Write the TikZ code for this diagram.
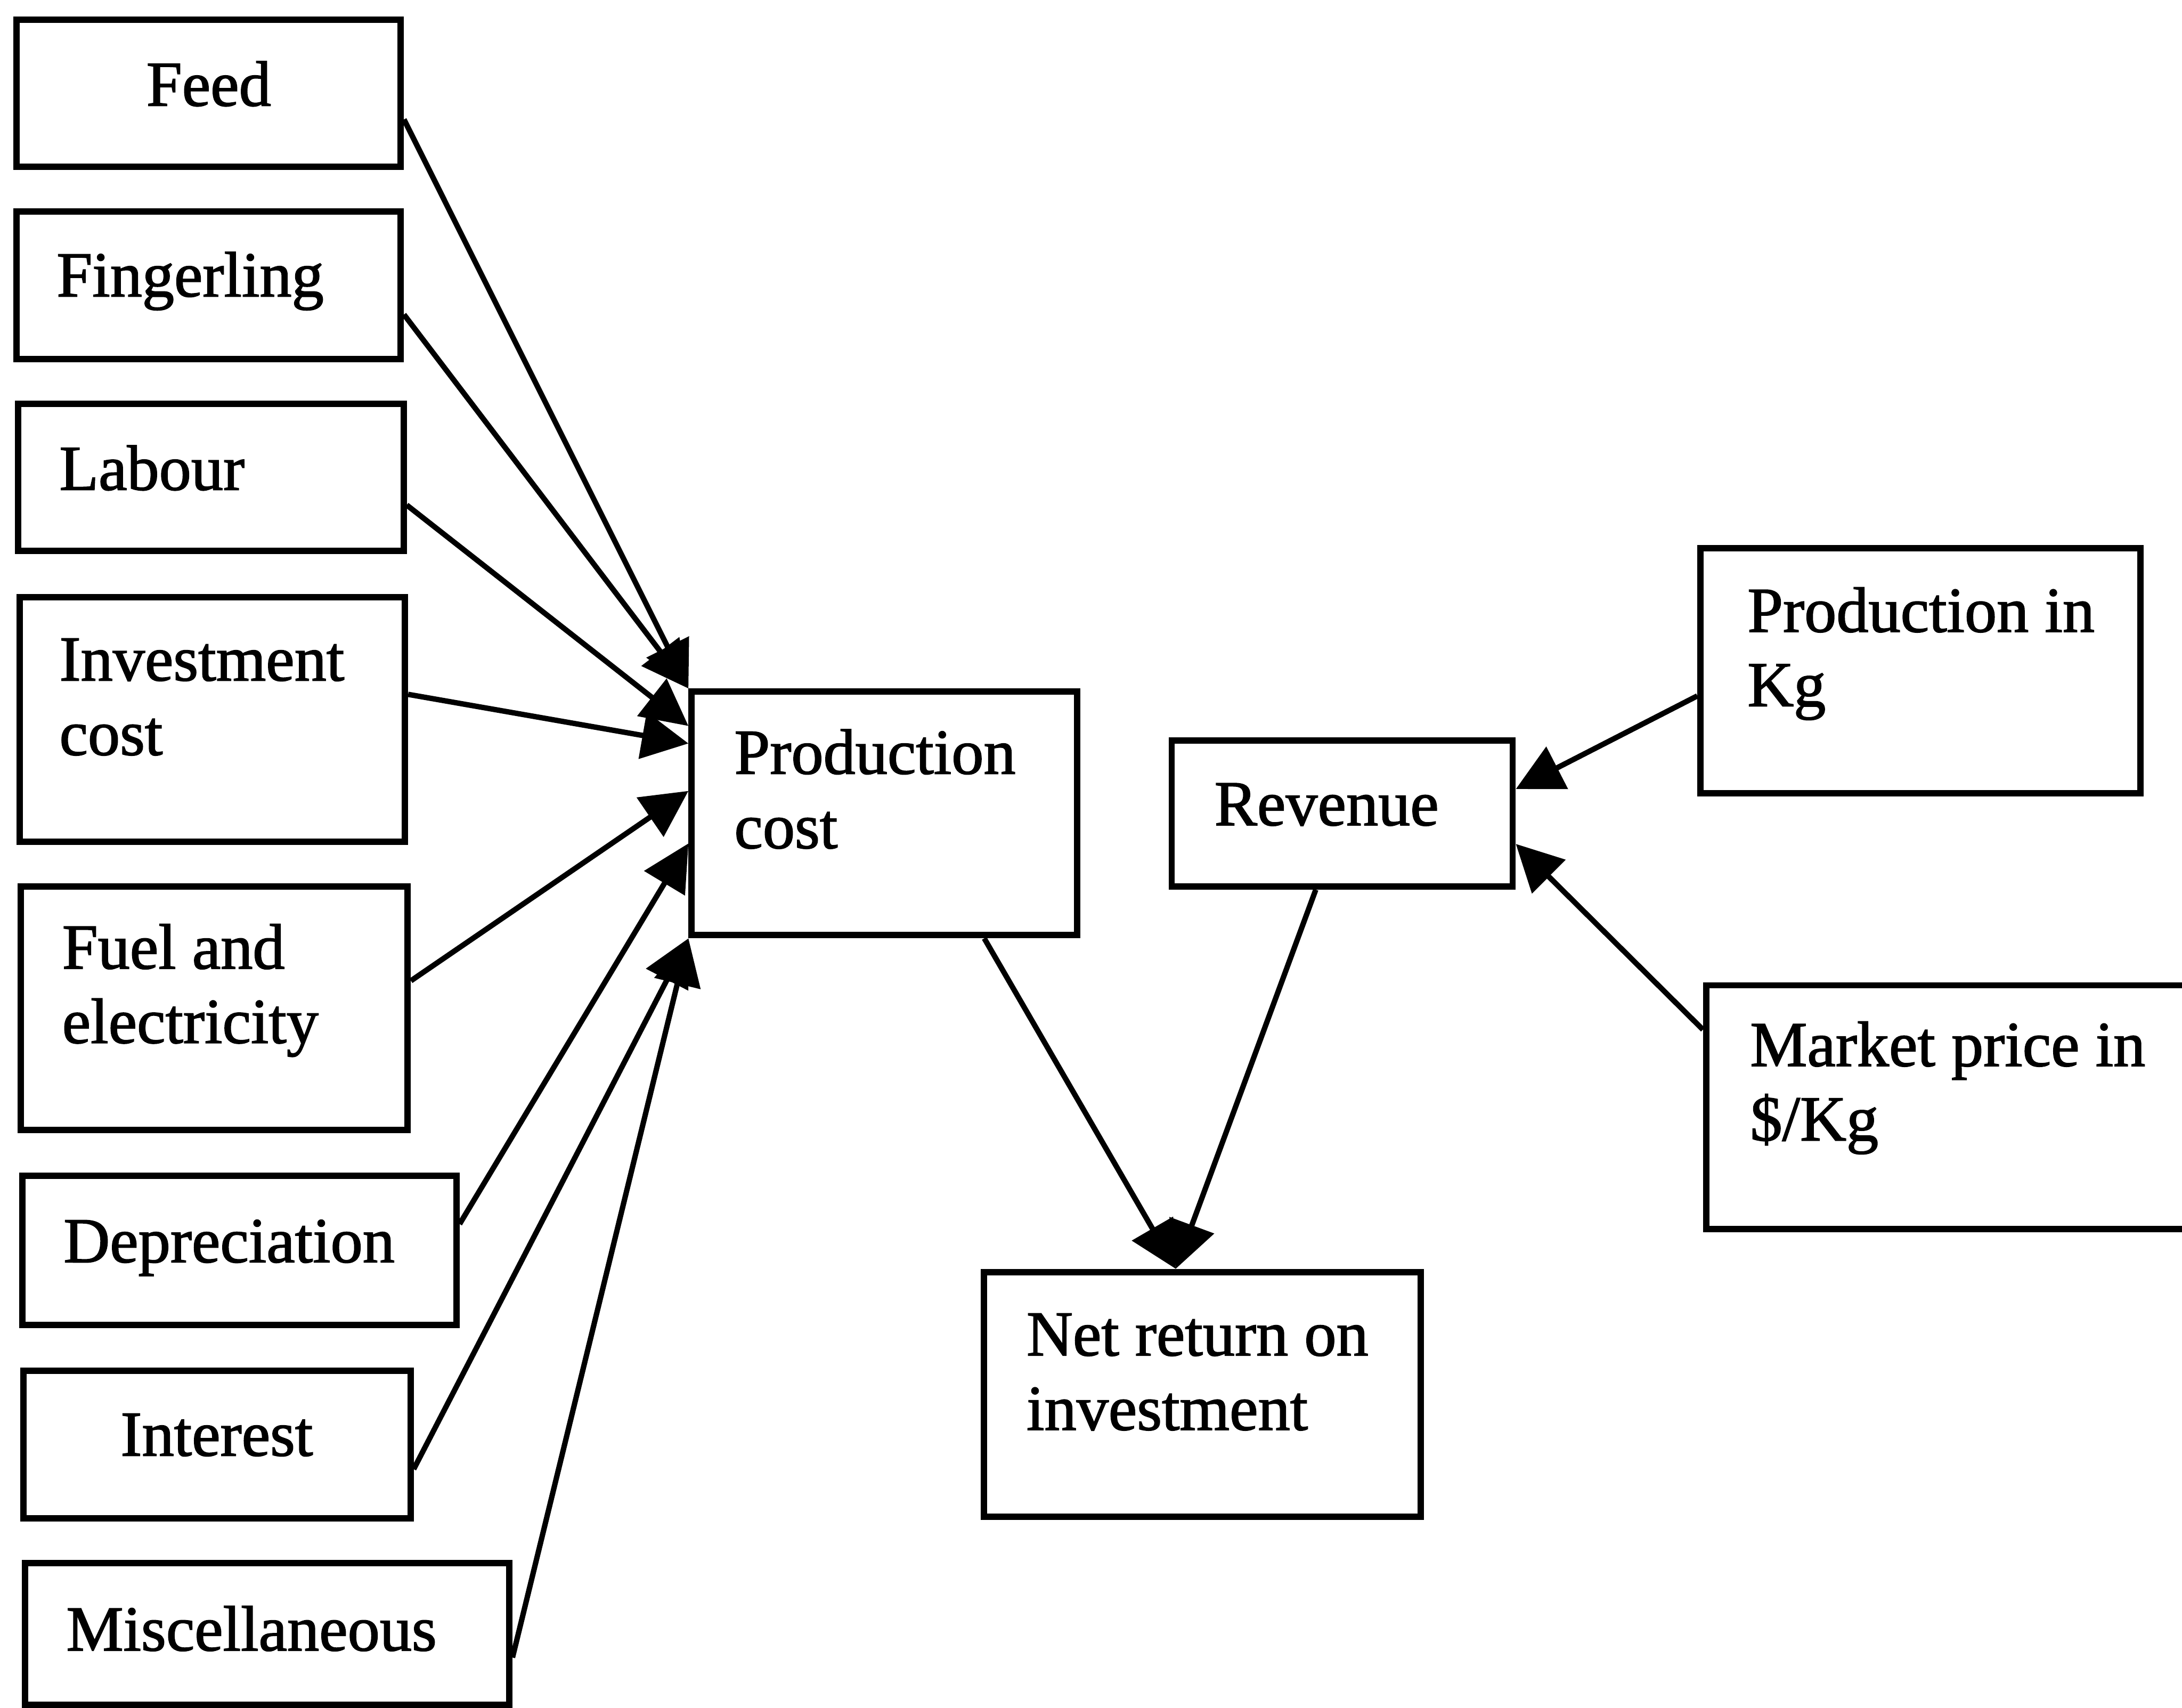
\documentclass[tikz,border=0pt]{standalone}
\usepackage{fontspec}
\setmainfont{Liberation Serif}
% regular Times-width glyphs with a slightly heavier stroke
\newfontfamily\labelfont[FakeBold=1.5]{Liberation Serif}
\usetikzlibrary{calc,fit,arrows.meta}

% two-line label whose first baseline sits on the node's base anchor
\newcommand{\twoline}[2]{\begin{tabular}[t]{@{}l@{}}#1\\#2\end{tabular}}

\begin{document}
\begin{tikzpicture}[x=0.01cm,y=-0.01cm,
  box/.style={draw,line width=1.3pt,inner sep=0pt},
  lbl/.style={inner sep=0pt,anchor=base west,font=\labelfont\fontsize{13.1}{15.2}\selectfont},
  flow/.style={line width=1.1pt,-{Triangle[length=9.5pt,width=9.5pt]}},
]
\useasboundingbox (0,0) rectangle (1568,1227);
\clip (0,0) rectangle (1568,1227);

% cost items (left column)
\node[box,fit={(12,14) (288,120)}]     (feed) {};
\node[box,fit={(12,152) (288,258)}]    (fing) {};
\node[box,fit={(13,290) (290,396)}]    (lab) {};
\node[box,fit={(14,429) (291,605)}]    (inv) {};
\node[box,fit={(15,637) (293,812)}]    (fuel) {};
\node[box,fit={(16,845) (328,952)}]    (dep) {};
\node[box,fit={(17,985) (295,1091)}]   (int) {};
\node[box,fit={(18,1123) (366,1225)}]  (misc) {};

% aggregates and outcome
\node[box,fit={(497,497) (774,672)}]   (prod) {};
\node[box,fit={(842,532) (1087,637)}]  (rev) {};
\node[box,fit={(1222,394) (1538,570)}] (kg) {};
\node[box,fit={(1226,708) (1600,883)}] (price) {};
\node[box,fit={(707,914) (1021,1090)}] (net) {};

% labels
\node[lbl,anchor=base] (feed-t) at (150,76)  {Feed};
\node[lbl] (fing-t)  at (40,213)   {Fingerling};
\node[lbl] (lab-t)   at (42,352)   {Labour};
\node[lbl] (inv-t)   at (42,489)   {\twoline{Investment}{cost}};
\node[lbl] (fuel-t)  at (44,696)   {\twoline{Fuel and}{electricity}};
\node[lbl] (dep-t)   at (45,907)   {Depreciation};
\node[lbl] (int-t)   at (86,1046)  {Interest};
\node[lbl] (misc-t)  at (47,1186)  {Miscellaneous};
\node[lbl] (prod-t)  at (527,556)  {\twoline{Production}{cost}};
\node[lbl] (rev-t)   at (872,593)  {Revenue};
\node[lbl] (kg-t)    at (1255,454) {\twoline{Production in}{Kg}};
\node[lbl] (price-t) at (1257,766) {\twoline{Market price in}{\$/Kg}};
\node[lbl] (net-t)   at (737,974)  {\twoline{Net return on}{investment}};

% cost items feeding production cost
\draw[flow] ($(feed.north east)!0.67!(feed.south east)$) -- (prod.north west);
\draw[flow] ($(fing.north east)!0.69!(fing.south east)$) -- (prod.north west);
\draw[flow] ($(lab.north east)!0.68!(lab.south east)$)   -- ($(prod.north west)!0.15!(prod.south west)$);
\draw[flow] ($(inv.north east)!0.40!(inv.south east)$)   -- ($(prod.north west)!0.22!(prod.south west)$);
\draw[flow] ($(fuel.north east)!0.39!(fuel.south east)$) -- ($(prod.north west)!0.41!(prod.south west)$);
\draw[flow] ($(dep.north east)!0.33!(dep.south east)$)   -- ($(prod.north west)!0.62!(prod.south west)$);
\draw[flow] ($(int.north east)!0.66!(int.south east)$)   -- (prod.south west);
\draw[flow] ($(misc.north east)!0.66!(misc.south east)$) -- (prod.south west);

% revenue inputs
\draw[flow] ($(kg.north west)!0.60!(kg.south west)$)       -- ($(rev.north east)!0.34!(rev.south east)$);
\draw[flow] ($(price.north west)!0.19!(price.south west)$) -- ($(rev.north east)!0.70!(rev.south east)$);

% net return
\draw[flow] ($(prod.south west)!0.755!(prod.south east)$) -- ($(net.north west)!0.44!(net.north east)$);
\draw[flow] ($(rev.south west)!0.424!(rev.south east)$)   -- ($(net.north west)!0.44!(net.north east)$);
\end{tikzpicture}
\end{document}
